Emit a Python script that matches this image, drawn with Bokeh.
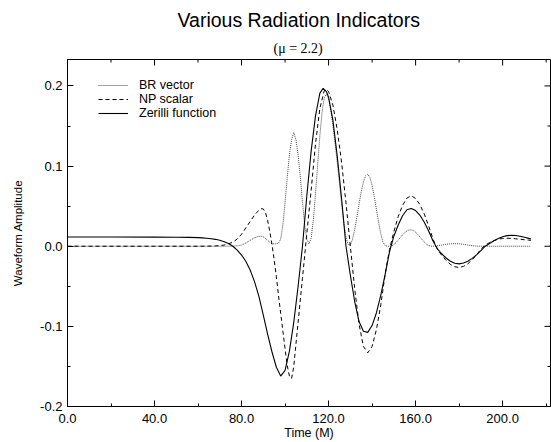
import math
from bokeh.plotting import figure
from bokeh.models import Title, Legend, LegendItem, Range1d, FixedTicker, NumeralTickFormatter
from bokeh.embed import file_html
from bokeh.resources import INLINE

# ---------------- data ----------------
title_text = "Various Radiation Indicators"
subtitle_text = "(\u03bc = 2.2)"
x_label = "Time (M)"
y_label = "Waveform Amplitude"
series_names = ["BR vector", "NP scalar", "Zerilli function"]

x_lim = (0, 222)
y_lim = (-0.2, 0.233)
x_major = [0, 40, 80, 120, 160, 200]
x_minor = [20, 60, 100, 140, 180, 220]
y_major = [-0.2, -0.1, 0.0, 0.1, 0.2]
y_minor = [-0.15, -0.05, 0.05, 0.15]

# Zerilli function (solid)
t_zer = [0, 20, 40, 50, 56, 60,
         62, 64, 66, 68, 70, 72, 74, 76, 78, 80,
         82, 84, 86, 88, 90, 92, 94, 96, 98, 100,
         102, 104, 106, 108, 110, 112, 114, 116, 117.5, 119,
         120, 122, 124, 126, 128, 130, 132, 134, 136, 138,
         140, 142, 144, 146, 148, 150, 152, 154, 156, 158,
         160, 162, 164, 166, 168, 170, 172, 174, 176, 178,
         180, 182, 184, 186, 188, 190, 192, 194, 196, 198,
         200, 202, 204, 206, 208, 210, 212, 213]
zer = [0.0115, 0.0115, 0.0114, 0.0112, 0.0110, 0.0107,
       0.0104, 0.0100, 0.0094, 0.0086, 0.0074, 0.0057, 0.0033, 0.0000, -0.0048, -0.0110,
       -0.0190, -0.0300, -0.0445, -0.0630, -0.0860, -0.1100, -0.1320, -0.1510, -0.1620, -0.1550,
       -0.1310, -0.0950, -0.0500, 0.0000, 0.0630, 0.1190, 0.1630, 0.1910, 0.1970, 0.1930,
       0.1860, 0.1570, 0.1120, 0.0590, 0.0000, -0.0360, -0.0690, -0.0940, -0.1060, -0.1075,
       -0.0990, -0.0830, -0.0610, -0.0350, -0.0070, 0.0125, 0.0265, 0.0380, 0.0455, 0.0470,
       0.0445, 0.0386, 0.0300, 0.0190, 0.0065, -0.0032, -0.0094, -0.0147, -0.0188, -0.0213,
       -0.0220, -0.0210, -0.0188, -0.0152, -0.0108, -0.0055, 0.0000, 0.0035, 0.0069, 0.0097,
       0.0119, 0.0132, 0.0137, 0.0134, 0.0125, 0.0112, 0.0098, 0.0092]

# NP scalar (dashed)
t_np = [0, 20, 40, 60, 64, 66, 68, 70, 72, 74,
        76, 78, 80, 82, 84, 86, 88, 89, 90, 91,
        92, 93, 94, 95, 96, 97, 98, 99, 100, 101,
        102, 103, 104, 105, 106, 107, 108, 110, 112, 114,
        116, 118, 119, 120, 122, 124, 126, 128, 130, 132,
        134, 136, 138, 140, 142, 144, 146, 148, 150, 152,
        154, 156, 158, 160, 162, 164, 166, 168, 170, 172,
        174, 176, 178, 180, 182, 184, 186, 188, 190, 192,
        194, 196, 198, 200, 202, 204, 206, 208, 210, 212, 213]
np_s = [0.0, 0.0, 0.0, 0.0, 0.0001, 0.0002, 0.0004, 0.0008, 0.0015, 0.0030,
        0.0050, 0.0090, 0.0150, 0.0230, 0.0310, 0.0390, 0.0450, 0.0468, 0.0465, 0.0420,
        0.0320, 0.0180, 0.0020, -0.0170, -0.0380, -0.0620, -0.0840, -0.1060, -0.1280, -0.1490,
        -0.1620, -0.1650, -0.1500, -0.1220, -0.0950, -0.0670, -0.0400, 0.0160, 0.0700, 0.1280,
        0.1720, 0.1940, 0.1960, 0.1930, 0.1760, 0.1450, 0.1040, 0.0540, 0.0000, -0.0530,
        -0.0970, -0.1250, -0.1330, -0.1250, -0.1040, -0.0730, -0.0350, -0.0040, 0.0180, 0.0370,
        0.0510, 0.0600, 0.0630, 0.0596, 0.0520, 0.0400, 0.0253, 0.0088, -0.0039, -0.0113,
        -0.0177, -0.0227, -0.0257, -0.0265, -0.0252, -0.0219, -0.0170, -0.0108, -0.0037, 0.0015,
        0.0045, 0.0070, 0.0088, 0.0097, 0.0100, 0.0098, 0.0093, 0.0087, 0.0081, 0.0076, 0.0074]

# BR vector (dotted)
t_br = [0, 40, 70, 76, 78, 80, 82, 84, 86, 88,
        89, 90, 92, 93, 94, 95, 96, 97, 98, 99,
        100, 101, 102, 103, 104, 105, 106, 107, 108, 109,
        110, 111, 112, 113, 114, 115, 116, 117, 118, 119,
        120, 121, 122, 123, 124, 125, 126, 127, 128, 129,
        130, 131, 132, 133, 134, 135, 136, 137, 138, 139,
        140, 141, 142, 143, 144, 145, 146, 147, 148, 149,
        150, 151, 152, 153, 154, 155, 156, 157, 158, 159,
        160, 161, 162, 163, 164, 165, 166, 167, 168, 170,
        172, 174, 176, 178, 180, 182, 184, 186, 188, 190,
        200, 213]
br = [0.0, 0.0, 0.0, 0.0001, 0.0004, 0.0015, 0.0040, 0.0075, 0.0105, 0.0124,
      0.0125, 0.0117, 0.0075, 0.0050, 0.0033, 0.0028, 0.0030, 0.0040, 0.0090, 0.0270,
      0.0550, 0.0860, 0.1140, 0.1330, 0.1420, 0.1330, 0.1140, 0.0860, 0.0550, 0.0270,
      0.0085, 0.0030, 0.0100, 0.0330, 0.0660, 0.1020, 0.1380, 0.1670, 0.1850, 0.1900,
      0.1840, 0.1700, 0.1500, 0.1280, 0.1040, 0.0790, 0.0530, 0.0290, 0.0110, 0.0020,
      0.0015, 0.0086, 0.0206, 0.0360, 0.0525, 0.0680, 0.0800, 0.0880, 0.0900, 0.0857,
      0.0759, 0.0620, 0.0457, 0.0296, 0.0154, 0.0050, 0.0008, 0.0000, 0.0000, 0.0005,
      0.0021, 0.0045, 0.0076, 0.0109, 0.0142, 0.0170, 0.0191, 0.0203, 0.0205, 0.0194,
      0.0175, 0.0148, 0.0116, 0.0083, 0.0051, 0.0025, 0.0008, 0.0001, 0.0000, 0.0006,
      0.0015, 0.0024, 0.0030, 0.0032, 0.0030, 0.0024, 0.0015, 0.0007, 0.0002, 0.0000,
      0.0000, 0.0000]

# ---------------- figure ----------------
FONT = "Liberation Sans"

p = figure(width=551, height=442, output_backend="svg", toolbar_location=None,
           x_range=Range1d(*x_lim), y_range=Range1d(*y_lim),
           title_location=None,
           min_border_left=67, min_border_right=1, min_border_top=59, min_border_bottom=35,
           background_fill_color="white", border_fill_color="white")
p.outline_line_color = "black"
p.outline_line_width = 1
p.xgrid.visible = False
p.ygrid.visible = False

xt = FixedTicker(ticks=x_major, minor_ticks=x_minor)
yt = FixedTicker(ticks=y_major, minor_ticks=y_minor)

for ax, ticker, standoff in ((p.xaxis[0], xt, 7), (p.yaxis[0], yt, 5)):
    ax.ticker = ticker
    ax.formatter = NumeralTickFormatter(format="0.0")
    ax.axis_line_color = "black"
    ax.major_tick_in = 6
    ax.major_tick_out = 0
    ax.minor_tick_in = 3
    ax.minor_tick_out = 0
    ax.major_tick_line_color = "black"
    ax.minor_tick_line_color = "black"
    ax.major_label_text_font = FONT
    ax.major_label_text_font_size = "13px"
    ax.major_label_text_color = "black"
    ax.major_label_standoff = standoff
    ax.axis_label_text_font = FONT
    ax.axis_label_text_font_style = "normal"
    ax.axis_label_text_color = "black"

xa = p.xaxis[0]
ya = p.yaxis[0]
xa.axis_label = x_label
xa.axis_label_text_font_size = "12.5px"
xa.axis_label_standoff = 0
ya.axis_label = y_label
ya.axis_label_text_font_size = "11.5px"
ya.axis_label_standoff = 13

# mirrored inward ticks on the top and right frame edges (clipped to the frame)
p.scatter(x_major, [y_lim[1]] * len(x_major), marker="dash", angle=math.pi / 2,
          size=12, line_color="black", line_width=1)
p.scatter(x_minor, [y_lim[1]] * len(x_minor), marker="dash", angle=math.pi / 2,
          size=6, line_color="black", line_width=1)
p.scatter([x_lim[1]] * len(y_major), y_major, marker="dash",
          size=12, line_color="black", line_width=1)
p.scatter([x_lim[1]] * len(y_minor), y_minor, marker="dash",
          size=6, line_color="black", line_width=1)

sub = Title(text=subtitle_text, align="left", offset=206, text_font="Liberation Serif",
            text_font_size="14px", text_font_style="normal", text_color="black", standoff=7)
main = Title(text=title_text, align="left", offset=110, text_font=FONT,
             text_font_size="19.5px", text_font_style="normal", text_color="black", standoff=10)
p.add_layout(sub, "above")
p.add_layout(main, "above")

r_br = p.line(t_br, br, line_color="#444444", line_width=1, line_dash="1 1")
r_np = p.line(t_np, np_s, line_color="black", line_width=1, line_dash="4 3")
r_zer = p.line(t_zer, zer, line_color="black", line_width=1.1)

legend = Legend(items=[LegendItem(label=series_names[0], renderers=[r_br]),
                       LegendItem(label=series_names[1], renderers=[r_np]),
                       LegendItem(label=series_names[2], renderers=[r_zer])],
                location=(31, 286), orientation="vertical",
                border_line_color=None, background_fill_alpha=0,
                padding=0, margin=0, spacing=0,
                label_height=14, glyph_height=14, glyph_width=30, label_standoff=11,
                label_text_font=FONT, label_text_font_size="12.5px", label_text_color="black")
p.add_layout(legend)

open("out.html", "w").write(file_html(p, INLINE))
